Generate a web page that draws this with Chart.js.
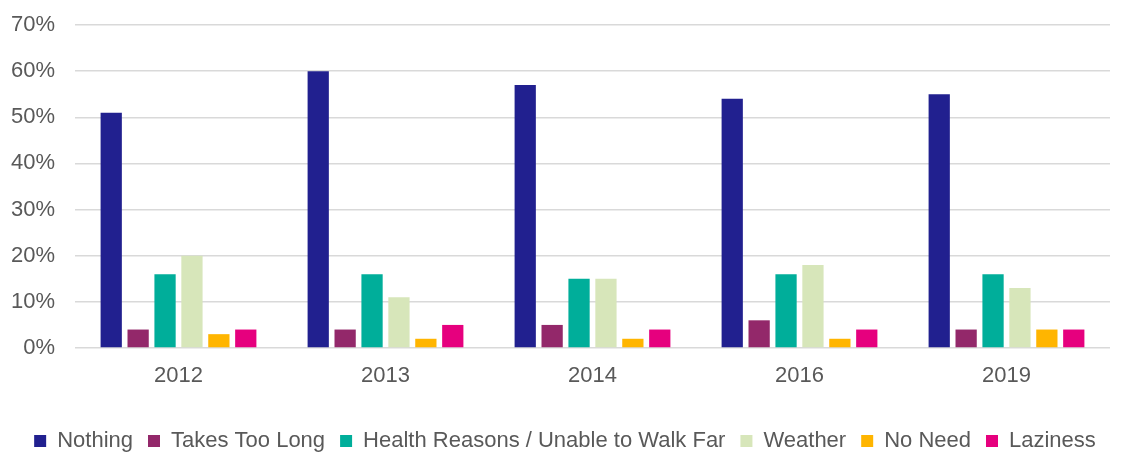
<!DOCTYPE html>
<html>
<head>
<meta charset="utf-8">
<script src="https://cdn.jsdelivr.net/npm/chart.js@4/dist/chart.umd.min.js"></script>
<style>
  html, body { margin: 0; padding: 0; background: #fff; }
  #wrap { width: 1123px; height: 465px; }
</style>
</head>
<body>
<div id="wrap"><canvas id="barChartCanvas"></canvas></div>
<script>
// --- Data ---
const years = ['2012', '2013', '2014', '2016', '2019'];
const seriesNames = ['Nothing', 'Takes Too Long', 'Health Reasons / Unable to Walk Far', 'Weather', 'No Need', 'Laziness'];
const nothing      = [51, 60, 57, 54, 55];
const takesTooLong = [4, 4, 5, 6, 4];
const healthReasons = [16, 16, 15, 16, 16];
const weather      = [20, 11, 15, 18, 13];
const noNeed       = [3, 2, 2, 2, 4];
const laziness     = [4, 5, 4, 4, 4];
const yTicks = [0, 10, 20, 30, 40, 50, 60, 70];

const seriesValues = [nothing, takesTooLong, healthReasons, weather, noNeed, laziness];
const seriesColors = ['#21208F', '#93286A', '#00AE9A', '#D7E6BA', '#FFB500', '#E6007E'];

const datasets = seriesNames.map((name, i) => ({
  label: name,
  data: seriesValues[i],
  backgroundColor: seriesColors[i],
  borderWidth: 0,
  categoryPercentage: 0.78,
  barPercentage: 0.79
}));

const font = { family: 'Liberation Sans, Arial', size: 22 };

// nudge the legend a little to the right, like the original
const legendShift = {
  id: 'legendShift',
  afterLayout(chart) {
    if (chart.legend) {
      chart.legend.left += 10;
      chart.legend.right += 10;
    }
  }
};

const ctx = document.getElementById('barChartCanvas').getContext('2d');
new Chart(ctx, {
  type: 'bar',
  data: { labels: years, datasets: datasets },
  plugins: [legendShift],
  options: {
    responsive: true,
    maintainAspectRatio: false,
    animation: false,
    layout: { padding: { top: 0, right: 13, left: 0, bottom: 3 } },
    plugins: {
      legend: {
        position: 'bottom',
        labels: {
          boxWidth: 12,
          boxHeight: 12,
          padding: 15,
          color: '#595959',
          font: font
        }
      },
      tooltip: { enabled: false }
    },
    scales: {
      x: {
        afterFit: (scale) => { scale.height = 67; },
        grid: { display: false },
        border: { display: false },
        ticks: { color: '#595959', padding: 7, font: font }
      },
      y: {
        min: 0,
        max: 70,
        afterFit: (scale) => { scale.width = 75; scale.paddingTop = 25; },
        afterBuildTicks: (scale) => { scale.ticks = yTicks.map(v => ({ value: v })); },
        grid: { color: '#D9D9D9', lineWidth: 1.5, drawTicks: false },
        border: { display: false },
        ticks: {
          color: '#595959',
          padding: 20,
          font: font,
          callback: (v) => v + '%'
        }
      }
    }
  }
});
</script>
</body>
</html>
